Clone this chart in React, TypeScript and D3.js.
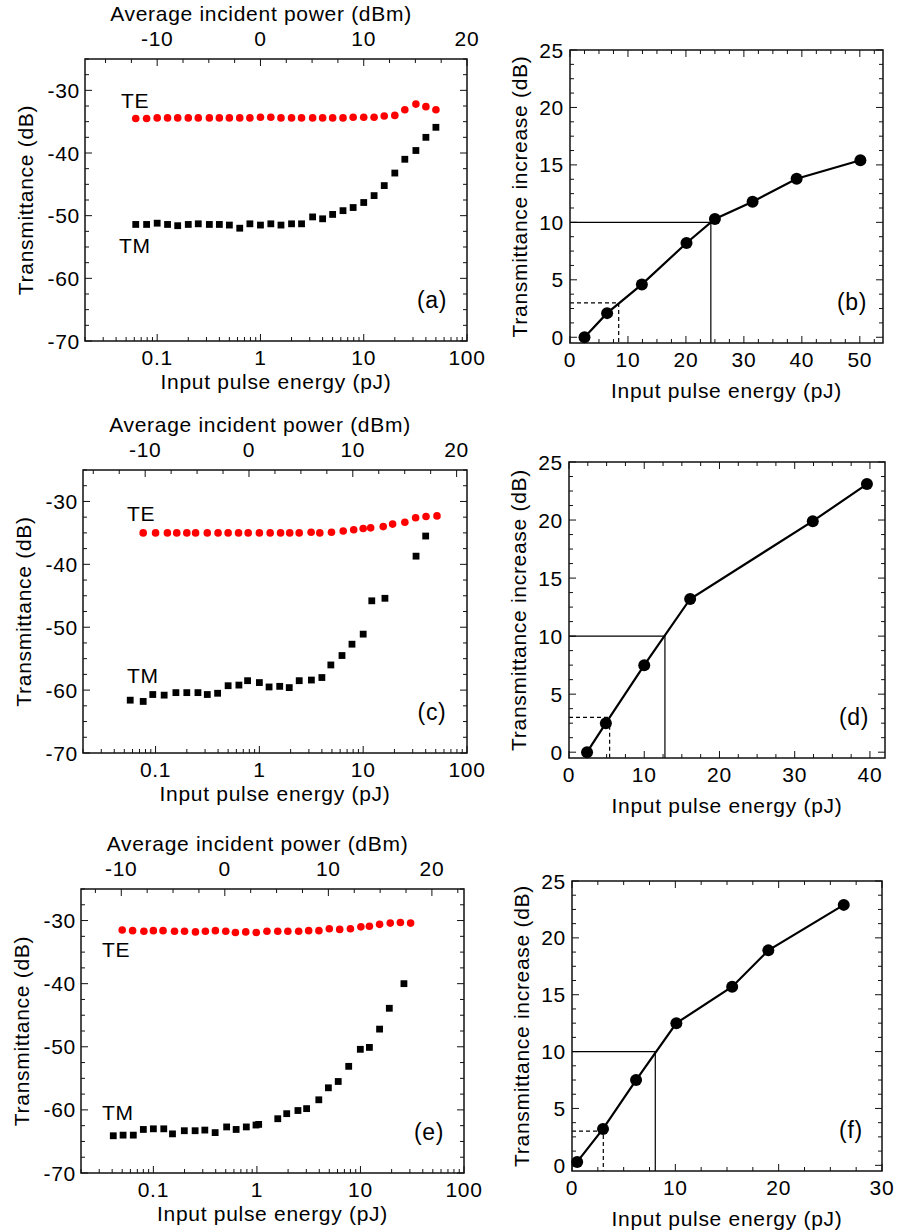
import React from 'react';
import * as d3 from 'd3';

// ---- data ----
const energyTeA = [0.062, 0.079, 0.1, 0.126, 0.158, 0.2, 0.25, 0.32, 0.4, 0.5, 0.63, 0.79, 1, 1.26, 1.58, 2, 2.5, 3.2, 4, 5, 6.3, 7.9, 10, 12.6, 15.8, 20, 25, 32, 40, 50];
const teA = [-34.5, -34.5, -34.4, -34.4, -34.4, -34.4, -34.4, -34.4, -34.4, -34.4, -34.4, -34.4, -34.3, -34.3, -34.4, -34.4, -34.4, -34.4, -34.4, -34.4, -34.4, -34.3, -34.3, -34.3, -34.1, -34.0, -33.1, -32.2, -32.6, -33.1];
const energyTmA = [0.062, 0.079, 0.1, 0.126, 0.158, 0.2, 0.25, 0.32, 0.4, 0.5, 0.63, 0.79, 1, 1.26, 1.58, 2, 2.5, 3.2, 4, 5, 6.3, 7.9, 10, 12.6, 15.8, 20, 25, 32, 40, 50];
const tmA = [-51.4, -51.4, -51.2, -51.4, -51.6, -51.4, -51.3, -51.4, -51.4, -51.5, -52.0, -51.3, -51.5, -51.3, -51.5, -51.3, -51.3, -50.2, -50.5, -49.8, -49.2, -48.7, -47.9, -46.8, -45.2, -43.2, -41.0, -39.6, -37.5, -35.9];

const energyTeC = [0.076, 0.1, 0.13, 0.16, 0.2, 0.243, 0.315, 0.4, 0.5, 0.63, 0.78, 1.0, 1.27, 1.6, 1.96, 2.42, 3.15, 3.82, 4.95, 6.42, 8.1, 10, 11.8, 15.6, 19.2, 25.2, 32, 40.3, 51.4];
const teC = [-35.0, -35.0, -35.0, -35.0, -35.0, -35.0, -35.0, -35.0, -35.0, -35.0, -35.0, -35.0, -35.0, -35.0, -35.0, -35.0, -34.9, -35.0, -34.9, -34.7, -34.5, -34.3, -34.2, -34.0, -33.6, -33.3, -32.6, -32.4, -32.3];
const energyTmC = [0.057, 0.076, 0.094, 0.121, 0.157, 0.2, 0.256, 0.315, 0.396, 0.5, 0.635, 0.77, 1.0, 1.24, 1.57, 1.94, 2.42, 3.17, 4.0, 4.88, 6.25, 7.8, 10, 12.1, 16.2, 32.3, 40.0];
const tmC = [-61.6, -61.8, -60.7, -60.8, -60.4, -60.4, -60.4, -60.7, -60.5, -59.3, -59.2, -58.5, -58.8, -59.5, -59.4, -59.6, -58.5, -58.4, -58.0, -56.0, -54.5, -52.7, -51.1, -45.8, -45.4, -38.7, -35.5];

const energyTeE = [0.05, 0.063, 0.081, 0.1, 0.124, 0.16, 0.2, 0.255, 0.318, 0.397, 0.5, 0.62, 0.78, 0.985, 1.25, 1.59, 1.99, 2.53, 3.16, 3.97, 5.0, 6.3, 8.0, 10.1, 12.2, 15.3, 19.4, 24.3, 30.5];
const teE = [-31.5, -31.6, -31.7, -31.6, -31.6, -31.7, -31.7, -31.8, -31.7, -31.6, -31.7, -31.9, -31.8, -31.9, -31.7, -31.7, -31.7, -31.7, -31.6, -31.6, -31.3, -31.4, -31.3, -31.0, -30.9, -30.6, -30.4, -30.3, -30.4];
const energyTmE = [0.041, 0.051, 0.064, 0.08, 0.1, 0.126, 0.153, 0.199, 0.253, 0.314, 0.395, 0.51, 0.63, 0.79, 0.98, 1.04, 1.59, 1.94, 2.49, 3.02, 3.96, 4.9, 6.1, 7.7, 9.97, 12.2, 15.3, 19.0, 26.3];
const tmE = [-64.1, -64.0, -64.0, -63.1, -63.0, -63.0, -63.8, -63.3, -63.3, -63.2, -63.6, -62.7, -63.1, -62.7, -62.4, -62.3, -61.4, -60.6, -60.1, -59.8, -58.4, -56.5, -55.5, -53.1, -50.4, -50.1, -47.2, -43.9, -40.0];

// dBm offset of the top axis relative to 10*log10(E)
const powerOffsets = [0, 1, 3.1];

const energyB = [2.5, 6.4, 12.4, 20.1, 25.0, 31.5, 39.1, 50.1];
const increaseB = [0.0, 2.1, 4.6, 8.2, 10.3, 11.8, 13.8, 15.4];
const energyD = [2.4, 4.9, 10.0, 16.1, 32.4, 39.6];
const increaseD = [0.0, 2.5, 7.5, 13.2, 19.9, 23.1];
const energyF = [0.5, 3.0, 6.2, 10.1, 15.5, 19.0, 26.3];
const increaseF = [0.3, 3.2, 7.5, 12.5, 15.7, 18.9, 22.9];

// energies at 10 dB and 3 dB increase (guide lines)
const guide10 = [24.3, 12.75, 8.06];
const guide3 = [8.4, 5.4, 3.03];
const xMaxRight = [54, 42, 30];

const FONT = 'Liberation Sans, Arial, sans-serif';
const FS = 21;
const LFS = 23;
const LS = 0.7;
const INK = '#111';

type Box = { l: number; t: number; r: number; b: number };

const T = (props: any) => <text fontSize={FS} fontFamily={FONT} letterSpacing={LS} {...props} />;

const LogPanel = ({ box, teX, teY, tmX, tmY, offset, label, tePos, tmPos }: any) => {
  const { l, t, r, b } = box as Box;
  const x = d3.scaleLog().domain([0.02, 100]).range([l, r]);
  const y = d3.scaleLinear().domain([-70, -25]).range([b, t]);
  const top = d3.scaleLinear().domain([10 * Math.log10(0.02) + offset, 20 + offset]).range([l, r]);

  const logTicks = x.ticks().filter(v => v >= 0.02 && v <= 100);
  const isMajor = (v: number) => Math.abs(Math.log10(v) - Math.round(Math.log10(v))) < 1e-6;
  const yMinor = d3.range(-70, -25 + 0.01, 2.5);
  const [t0, t1] = top.domain();
  const topMinor = d3.range(Math.ceil(t0 / 2.5) * 2.5, t1 + 0.01, 2.5);

  return (
    <g>
      {/* bottom log ticks */}
      {logTicks.map((v, i) => (
        <line key={'lx' + i} x1={x(v)} x2={x(v)} y1={b} y2={b - (isMajor(v) ? 7 : 4)} stroke={INK} strokeWidth={1} />
      ))}
      {logTicks.filter(isMajor).map((v, i) => (
        <T key={'lxl' + i} x={x(v)} y={b + 24} textAnchor="middle">{d3.format('~g')(v)}</T>
      ))}
      {/* top dBm ticks */}
      {topMinor.map((v, i) => (
        <line key={'tx' + i} x1={top(v)} x2={top(v)} y1={t} y2={t + (v % 10 === 0 ? 7 : 4)} stroke={INK} strokeWidth={1} />
      ))}
      {top.ticks(4).filter(v => v % 10 === 0).map((v, i) => (
        <T key={'txl' + i} x={top(v)} y={t - 13} textAnchor="middle">{v}</T>
      ))}
      {/* y ticks both sides */}
      {yMinor.map((v, i) => {
        const len = v % 10 === 0 ? 7 : 4;
        return (
          <g key={'y' + i}>
            <line x1={l} x2={l + len} y1={y(v)} y2={y(v)} stroke={INK} strokeWidth={1} />
            <line x1={r} x2={r - len} y1={y(v)} y2={y(v)} stroke={INK} strokeWidth={1} />
          </g>
        );
      })}
      {y.ticks(5).filter(v => v % 10 === 0).map((v, i) => (
        <T key={'yl' + i} x={l - 5} y={y(v)} dy="0.36em" textAnchor="end">{v}</T>
      ))}
      <rect x={l} y={t} width={r - l} height={b - t} fill="none" stroke={INK} strokeWidth={1.5} />

      {teX.map((v: number, i: number) => (
        <circle key={'te' + i} cx={x(v)} cy={y(teY[i])} r={3.8} fill="#ff0000" />
      ))}
      {tmX.map((v: number, i: number) => (
        <rect key={'tm' + i} x={x(v) - 3.4} y={y(tmY[i]) - 3.4} width={6.8} height={6.8} fill="#000" />
      ))}

      <T x={tePos[0]} y={tePos[1]}>TE</T>
      <T x={tmPos[0]} y={tmPos[1]}>TM</T>
      <T x={r - 35} y={b - 33} textAnchor="middle" fontSize={LFS}>{label}</T>

      <T x={(l + r) / 2 - 15} y={t - 38} textAnchor="middle">Average incident power (dBm)</T>
      <T x={(l + r) / 2} y={b + 48} textAnchor="middle">Input pulse energy (pJ)</T>
      <T transform={`translate(${l - 52},${(t + b) / 2}) rotate(-90)`} textAnchor="middle">Transmittance (dB)</T>
    </g>
  );
};

const LinPanel = ({ box, xs, ys, xMax, g10, g3, label }: any) => {
  const { l, t, r, b } = box as Box;
  const x = d3.scaleLinear().domain([0, xMax]).range([l, r]);
  const y = d3.scaleLinear().domain([-0.5, 25]).range([b, t]);
  const xMinor = d3.range(0, xMax + 0.01, 2.5);
  const yMinor = d3.range(0, 25.01, 1.25);
  const line = d3.line<number>().x(d => x(d)).y((d, i) => y(ys[i]));

  return (
    <g>
      {xMinor.map((v, i) => {
        const len = v % 10 === 0 ? 7 : 4;
        return (
          <g key={'x' + i}>
            <line x1={x(v)} x2={x(v)} y1={b} y2={b - len} stroke={INK} strokeWidth={1} />
            <line x1={x(v)} x2={x(v)} y1={t} y2={t + len} stroke={INK} strokeWidth={1} />
          </g>
        );
      })}
      {x.ticks(5).filter(v => v % 10 === 0).map((v, i) => (
        <T key={'xl' + i} x={x(v)} y={b + 24} textAnchor="middle">{v}</T>
      ))}
      {yMinor.map((v, i) => {
        const len = v % 5 === 0 ? 7 : 4;
        return (
          <g key={'y' + i}>
            <line x1={l} x2={l + len} y1={y(v)} y2={y(v)} stroke={INK} strokeWidth={1} />
            <line x1={r} x2={r - len} y1={y(v)} y2={y(v)} stroke={INK} strokeWidth={1} />
          </g>
        );
      })}
      {d3.range(0, 26, 5).map((v, i) => (
        <T key={'yl' + i} x={l - 6} y={y(v)} dy="0.36em" textAnchor="end">{v}</T>
      ))}

      {/* guide lines */}
      <polyline points={`${x(0)},${y(10)} ${x(g10)},${y(10)} ${x(g10)},${b}`} fill="none" stroke="#000" strokeWidth={1.2} />
      <polyline points={`${x(0)},${y(3)} ${x(g3)},${y(3)} ${x(g3)},${b}`} fill="none" stroke="#000" strokeWidth={1.2} strokeDasharray="4,3" />

      <rect x={l} y={t} width={r - l} height={b - t} fill="none" stroke={INK} strokeWidth={1.5} />

      <path d={line(xs) || ''} fill="none" stroke="#000" strokeWidth={2.2} />
      {xs.map((v: number, i: number) => (
        <circle key={'p' + i} cx={x(v)} cy={y(ys[i])} r={6} fill="#000" />
      ))}

      <T x={r - 31} y={b - 33} textAnchor="middle" fontSize={LFS}>{label}</T>
      <T x={(l + r) / 2} y={b + 55} textAnchor="middle">Input pulse energy (pJ)</T>
      <T transform={`translate(${l - 43},${(t + b) / 2}) rotate(-90)`} textAnchor="middle">Transmittance increase (dB)</T>
    </g>
  );
};

export default function App() {
  return (
    <div style={{ position: 'absolute', left: 0, top: 0 }}>
      <svg width={899} height={1232} style={{ display: 'block', background: '#fff' }}>
        <LogPanel box={{ l: 85, t: 59, r: 467, b: 341 }} teX={energyTeA} teY={teA} tmX={energyTmA} tmY={tmA}
          offset={powerOffsets[0]} label="(a)" tePos={[121, 108]} tmPos={[119, 253]} />
        <LogPanel box={{ l: 83, t: 470, r: 467, b: 753 }} teX={energyTeC} teY={teC} tmX={energyTmC} tmY={tmC}
          offset={powerOffsets[1]} label="(c)" tePos={[127, 521]} tmPos={[127, 683]} />
        <LogPanel box={{ l: 81, t: 889, r: 464, b: 1173 }} teX={energyTeE} teY={teE} tmX={energyTmE} tmY={tmE}
          offset={powerOffsets[2]} label="(e)" tePos={[102, 957]} tmPos={[102, 1120]} />
        <LinPanel box={{ l: 570, t: 50, r: 883, b: 343 }} xs={energyB} ys={increaseB} xMax={xMaxRight[0]} g10={guide10[0]} g3={guide3[0]} label="(b)" />
        <LinPanel box={{ l: 569, t: 462, r: 885, b: 758 }} xs={energyD} ys={increaseD} xMax={xMaxRight[1]} g10={guide10[1]} g3={guide3[1]} label="(d)" />
        <LinPanel box={{ l: 572, t: 881, r: 882, b: 1171 }} xs={energyF} ys={increaseF} xMax={xMaxRight[2]} g10={guide10[2]} g3={guide3[2]} label="(f)" />
      </svg>
    </div>
  );
}
